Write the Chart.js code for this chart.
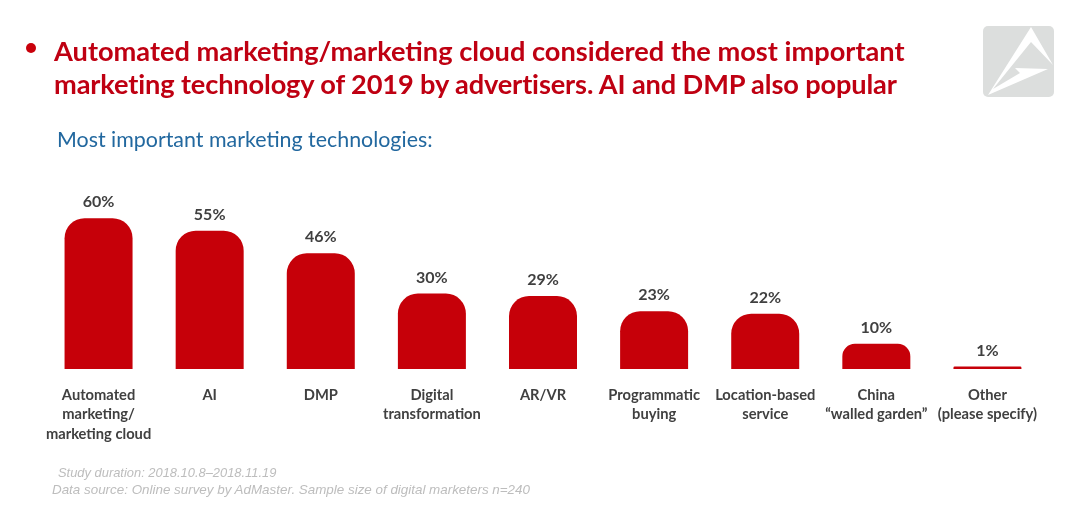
<!DOCTYPE html>
<html>
<head>
<meta charset="utf-8">
<script src="https://cdn.jsdelivr.net/npm/chart.js@4"></script>
<style>
  html, body { margin: 0; padding: 0; background: #fff; }
  #page { position: relative; width: 1080px; height: 510px; overflow: hidden; font-family: Lato, sans-serif; }
  #page canvas { position: absolute; left: 0; top: 0; }
  .text { position: absolute; white-space: nowrap; }
  #bullet { left: 26px; top: 43px; width: 10px; height: 10px; border-radius: 50%; background: #c9000b; }
  #title { left: 54px; top: 34px; font-size: 27.2px; font-weight: 700; line-height: 33px; color: #bf0012; }
  #title span { letter-spacing: -0.13px; }
  #subtitle { left: 57px; top: 126px; font-size: 21.4px; line-height: 26px; color: #22689f; }
  .note { font-family: "Liberation Sans", sans-serif; font-style: italic; line-height: 16px; color: #bdbdbd; }
  #logo { position: absolute; left: 983px; top: 26px; }
</style>
</head>
<body>
<div id="page">
  <canvas id="chart" width="1080" height="510"></canvas>
  <div class="text" id="bullet"></div>
  <div class="text" id="title">Automated marketing/marketing cloud considered the most important<br><span>marketing technology of 2019 by advertisers. AI and DMP also popular</span></div>
  <div class="text" id="subtitle">Most important marketing technologies:</div>
  <div class="text note" style="left:58px;top:465px;font-size:12.9px">Study duration: 2018.10.8–2018.11.19</div>
  <div class="text note" style="left:52px;top:482px;font-size:13.4px">Data source: Online survey by AdMaster. Sample size of digital marketers n=240</div>
  <svg id="logo" width="71" height="71" viewBox="0 0 71 71">
    <rect width="71" height="71" rx="5" fill="#dcdedd"/>
    <path d="M5 69 L48 1 L70 39 L48 16 L10 63 L37 47 L32 42 L65 43 Z" fill="#fff"/>
  </svg>
</div>
<script>
// Dados
const categories = [
    ["Automated", "marketing/", "marketing cloud"],
    "AI",
    "DMP",
    ["Digital", "transformation"],
    "AR/VR",
    ["Programmatic", "buying"],
    ["Location-based", "service"],
    ["China", "“walled garden”"],
    ["Other", "(please specify)"]
];
const percentValues = [60, 55, 46, 30, 29, 23, 22, 10, 1];
const barColor = "#c60009";
const labelColor = "#404040";

// Rótulos de percentual acima das barras
const valueLabels = {
    id: "valueLabels",
    afterDatasetsDraw(chart) {
        const { ctx } = chart;
        ctx.save();
        ctx.font = "700 16px Lato, sans-serif";
        ctx.fillStyle = labelColor;
        ctx.textAlign = "center";
        ctx.textBaseline = "bottom";
        chart.getDatasetMeta(0).data.forEach((bar, i) => {
            ctx.fillText(percentValues[i] + "%", bar.x, bar.y - 8);
        });
        ctx.restore();
    }
};

new Chart(document.getElementById("chart"), {
    type: "bar",
    data: {
        labels: categories,
        datasets: [{
            data: percentValues,
            backgroundColor: barColor,
            borderRadius: { topLeft: 20, topRight: 20, bottomLeft: 0, bottomRight: 0 },
            borderSkipped: false,
            barPercentage: 0.612,
            categoryPercentage: 1
        }]
    },
    options: {
        responsive: false,
        animation: false,
        layout: { padding: { left: 43, right: 37, top: 193, bottom: 0 } },
        plugins: { legend: { display: false }, tooltip: { enabled: false } },
        scales: {
            x: {
                grid: { display: false },
                border: { display: false },
                afterFit: (scale) => { scale.height = 141; },
                ticks: {
                    autoSkip: false,
                    maxRotation: 0,
                    padding: 8,
                    color: labelColor,
                    font: { family: "Lato, sans-serif", size: 14.7, weight: "700", lineHeight: 1.33 }
                }
            },
            y: { display: false, min: 0, max: 70 }
        }
    },
    plugins: [valueLabels]
});
</script>
</body>
</html>
